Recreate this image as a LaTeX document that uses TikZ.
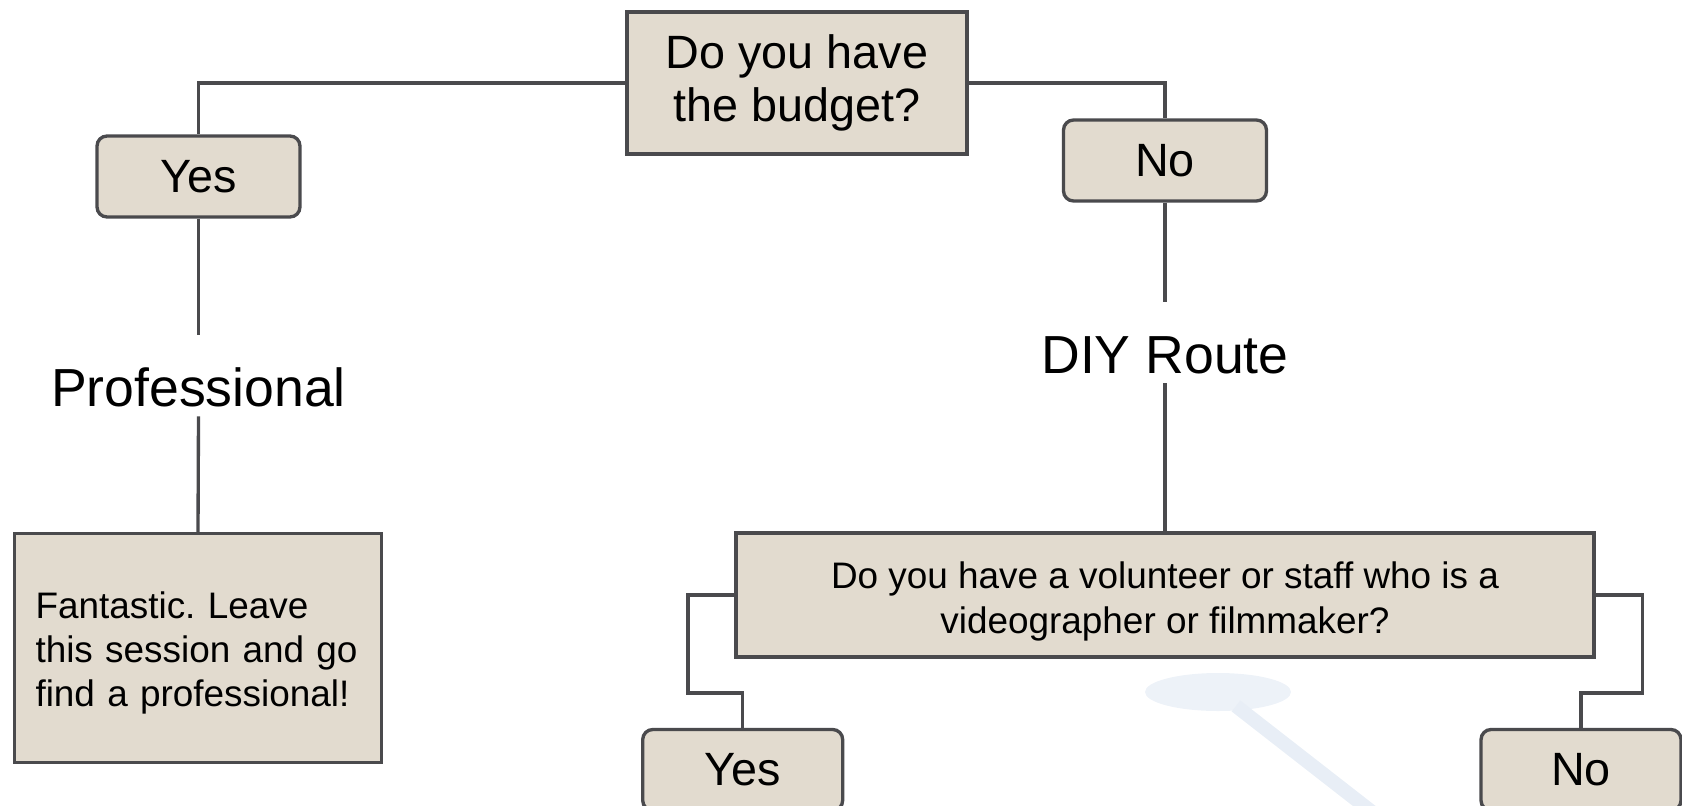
\documentclass[tikz,border=0pt]{standalone}
\usepackage{fontspec}
\setmainfont{Liberation Sans}
\frenchspacing
\usepackage{tikz}

\definecolor{boxfill}{HTML}{E2DBCF}
\definecolor{boxline}{HTML}{4A4A4D}
\definecolor{wmblue}{HTML}{EDF2F8}
\definecolor{wmbluetwo}{HTML}{E8EEF6}

\begin{document}
\begin{tikzpicture}[x=0.02cm,y=-0.02cm,
  box/.style={draw=boxline,fill=boxfill,line width=1.9pt,inner sep=0pt,align=center},
  rbox/.style={box,rounded corners=0.2cm,minimum width=4.06cm,minimum height=1.62cm,
    font=\fontsize{26.6}{30.6}\selectfont},
  lbl/.style={inner sep=0pt,text height=1.42cm,text depth=0.2cm,
    font=\fontsize{30.5}{35}\selectfont},
  link/.style={draw=boxline,line width=1.9pt}]
\useasboundingbox (0,0) rectangle (1682,805);

% faint mark in the back
\fill[wmblue] (1218,692) ellipse [x radius=1.46cm, y radius=0.38cm];
\draw[wmbluetwo,line width=0.28cm] (1236,706) -- (1372,812);

\node[box,minimum width=6.8cm,minimum height=2.84cm,font=\fontsize{26.6}{30.6}\selectfont] (10) at (797,83) {Do you have\\the budget?};

\node[rbox] (21) at (198.5,176.5) {Yes};
\node[rbox] (22) at (1165,160.5) {No};

\node[lbl,anchor=base] (31) at (198.5,406) {Professional};
\node[lbl,anchor=base] (32) at (1165,373) {DIY Route};

\node[box,minimum width=7.34cm,minimum height=4.58cm,text width=6.5cm,inner xsep=0.42cm,align=left,
  font=\fontsize{21}{25}\selectfont] (41) at (198,648) {\rule{0pt}{21pt}Fantastic. Leave\\this session and go\\find a professional!};
\node[box,minimum width=17.16cm,minimum height=2.48cm,font=\fontsize{21}{25.5}\selectfont] (42) at (1165,595)
  {\rule{0pt}{23pt}Do you have a volunteer or staff who is a\\videographer or filmmaker?};

\node[rbox,minimum width=4cm] (51) at (742.7,770) {Yes};
\node[rbox,minimum width=4cm] (52) at (1581,770) {No};

\coordinate (c1) at (688,693);
\coordinate (c2) at (1642.5,693);

\draw[link] (10.west) -| (21.north);
\draw[link] (10.east) -| (22.north);
\draw[link] (21.south) -- (31.north);
\draw[link] (31.south) -- (41.north);
\draw[link] (22.south) -- (32.north);
\draw[link] (32.south) -- (42.north);
\draw[link] (42.west) -| (c1) -| (51.north);
\draw[link] (42.east) -| (c2) -| (52.north);
\end{tikzpicture}
\end{document}
